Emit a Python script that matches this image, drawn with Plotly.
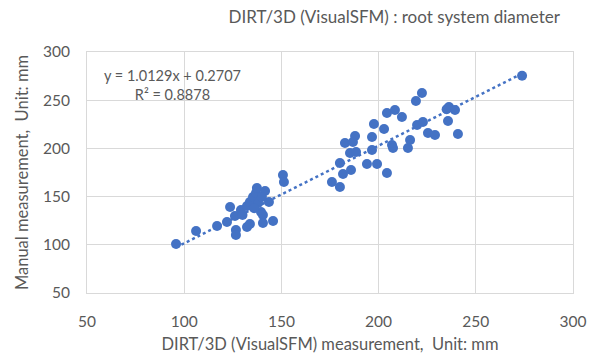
import plotly.graph_objects as go

dirt_x = [95.8, 106.1, 116.9, 122.0, 123.6, 126.1, 126.6, 126.6, 129.2, 132.3,
          132.3, 133.8, 133.8, 135.4, 136.9, 137.4, 138.0, 139.5, 140.5, 140.5,
          141.6, 143.6, 145.7, 140.0, 150.8, 151.3, 176.0, 180.1, 180.1, 181.7,
          185.8, 185.3, 188.4, 194.0, 199.2, 196.6, 222.3, 219.2, 204.3, 208.4,
          212.0, 197.6, 202.8, 219.8, 222.8, 225.4, 229.0, 187.9, 182.7, 186.8,
          196.6, 206.9, 207.4, 216.2, 215.1, 204.3, 273.8, 235.0, 236.2, 239.3,
          235.7, 240.8, 130.0, 136.0]
manual_y = [100.8, 114.3, 119.5, 123.7, 139.2, 129.9, 115.4, 110.2, 136.1, 140.2,
            118.5, 121.6, 144.4, 149.6, 153.7, 158.9, 143.4, 134.0, 130.9, 122.6,
            155.8, 144.4, 124.7, 149.6, 172.4, 165.1, 165.1, 160.0, 184.9, 173.4,
            177.6, 195.2, 196.3, 183.8, 183.8, 198.3, 257.5, 249.2, 236.7, 239.8,
            232.6, 225.3, 220.1, 224.3, 227.4, 216.0, 213.9, 212.9, 205.6, 206.6,
            211.8, 203.5, 200.4, 208.7, 200.4, 174.5, 275.4, 240.6, 243.0, 239.8,
            228.4, 214.9, 131.0, 138.0]

# Linear trendline reported on the chart
slope = 1.0129
intercept = 0.2707
r_squared = 0.8878

axis_ticks = [50, 100, 150, 200, 250, 300]

BLUE = "#4472C4"
GREY_TXT = "#595959"
GRID = "#D9D9D9"
FONT = "Lato, 'Open Sans', sans-serif"

x0, x1 = min(dirt_x), max(dirt_x)
trend_x = [x0, x1]
trend_y = [slope * v + intercept for v in trend_x]

fig = go.Figure()
fig.add_trace(go.Scatter(
    x=trend_x, y=trend_y, mode="lines",
    line=dict(color=BLUE, width=2.5, dash="dot"),
    hoverinfo="skip", showlegend=False))
fig.add_trace(go.Scatter(
    x=dirt_x, y=manual_y, mode="markers",
    marker=dict(color=BLUE, size=10, line=dict(width=0)),
    showlegend=False))

fig.add_annotation(
    x=0.175, y=0.862, xref="paper", yref="paper",
    xanchor="center", yanchor="middle",
    text=f"y = {slope}x + {intercept}<br>R² = {r_squared}",
    showarrow=False, align="center",
    font=dict(family=FONT, size=14.5, color=GREY_TXT))

fig.update_layout(
    width=600, height=364,
    margin=dict(l=87, r=27, t=52, b=71),
    paper_bgcolor="white", plot_bgcolor="white",
    font=dict(family=FONT, color=GREY_TXT),
    title=dict(text="DIRT/3D (VisualSFM) : root system diameter",
               x=0.657, xanchor="center", y=0.952, yanchor="middle",
               font=dict(family=FONT, size=17, color=GREY_TXT)),
)
fig.update_xaxes(
    range=[50, 300], tickvals=axis_ticks, ticks="",
    showgrid=True, gridcolor=GRID, gridwidth=1,
    showline=True, linecolor=GRID, mirror=True, zeroline=False,
    tickfont=dict(family=FONT, size=15.5, color=GREY_TXT),
    ticklabelstandoff=14,
    title=dict(text="DIRT/3D (VisualSFM) measurement,  Unit: mm",
               font=dict(family=FONT, size=16.5, color=GREY_TXT), standoff=9))
fig.update_yaxes(
    range=[50, 300], tickvals=axis_ticks, ticks="",
    showgrid=True, gridcolor=GRID, gridwidth=1,
    showline=True, linecolor=GRID, mirror=True, zeroline=False,
    tickfont=dict(family=FONT, size=15.5, color=GREY_TXT),
    ticklabelstandoff=13,
    title=dict(text="Manual measurement,  Unit: mm",
               font=dict(family=FONT, size=16.5, color=GREY_TXT), standoff=10))

fig.write_html("out.html")
